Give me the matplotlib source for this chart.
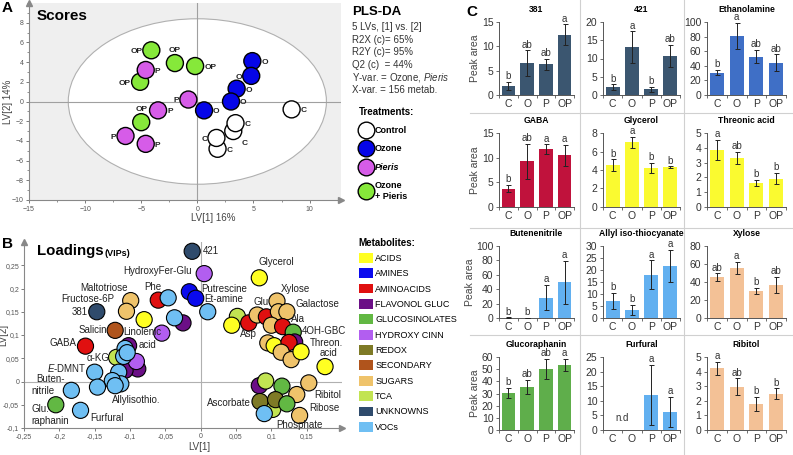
import matplotlib
matplotlib.use('Agg')
import matplotlib.pyplot as plt
from matplotlib.patches import Ellipse, Patch
from matplotlib.lines import Line2D
from matplotlib.ticker import MultipleLocator, FixedLocator
import numpy as np

plt.rcParams['font.family'] = ['Liberation Sans', 'DejaVu Sans']
plt.rcParams['mathtext.fontset'] = 'custom'
plt.rcParams['mathtext.it'] = 'Liberation Sans:italic'
plt.rcParams['mathtext.rm'] = 'Liberation Sans'

W, H = 793, 455

# ---------------- data ----------------
# A: PLS-DA scores
score_x = [-4.1, -2.0, -0.2, -5.1, -5.0,
           -4.6, -0.8, -3.5, -6.4, -4.6,
           4.9, 4.8, 3.5, 3.0, 0.6,
           3.2, 3.4, 1.8, 1.7, 8.4]
score_y = [5.2, 3.9, 3.6, 2.0, -2.1,
           3.2, 0.2, -0.9, -3.5, -4.3,
           4.1, 2.6, 1.3, 0.0, -0.9,
           -3.0, -2.2, -4.8, -3.7, -0.8]
score_grp = ['OP'] * 5 + ['P'] * 5 + ['O'] * 5 + ['C'] * 5
score_side = ['l', 'u', 'r', 'l', 'u',
              'r', 'l', 'r', 'l', 'r',
              'r', 'l', 'r', 'r', 'r',
              'd', 'r', 'r', 'l', 'r']
treat_codes = ['C', 'O', 'P', 'OP']
treat_names = ['Control', 'Ozone', 'Pieris', 'Ozone\n+ Pieris']
treat_colors = ['white', '#0505e8', '#d65ce8', '#86e83a']

# B: loadings (VIPs)
load_x = [-0.102, -0.089, -0.107, -0.091, -0.025, -0.055, -0.037, -0.099, -0.105, -0.080,
          -0.060, -0.046, -0.147, -0.012, 0.005, -0.016, -0.007, 0.010, -0.121, -0.163,
          -0.119, -0.107, -0.109, -0.104, -0.150, -0.116, -0.113, -0.125, -0.121, -0.146,
          -0.183, -0.170, -0.205,
          0.083, 0.052, 0.044, 0.068, 0.080, 0.093, 0.108, 0.110, 0.122, 0.100,
          0.116, 0.131, 0.133, 0.095, 0.104, 0.125, 0.114, 0.128, 0.142, 0.176,
          0.083, 0.092, 0.115, 0.153, 0.136, 0.102, 0.084, 0.106, 0.122, 0.090, 0.140]
load_y = [0.077, 0.027, 0.024, 0.043, 0.126, 0.104, 0.137, 0.174, 0.151, 0.133,
          0.175, 0.180, 0.150, 0.280, 0.232, 0.193, 0.179, 0.150, 0.110, 0.076,
          0.052, 0.071, 0.054, 0.062, 0.020, 0.020, -0.005, 0.002, -0.009, -0.012,
          -0.019, -0.062, -0.050,
          0.223, 0.140, 0.121, 0.126, 0.143, 0.139, 0.173, 0.150, 0.150, 0.121,
          0.118, 0.106, 0.085, 0.083, 0.077, 0.084, 0.063, 0.047, 0.064, 0.032,
          -0.009, 0.001, -0.010, -0.003, -0.028, -0.060, -0.043, -0.039, -0.048, -0.069, -0.073]
load_cat = ['FLA', 'FLA', 'FLA', 'HYD', 'FLA', 'HYD', 'VOC', 'SUG', 'SUG', 'ACI',
            'AMA', 'VOC', 'UNK', 'UNK', 'HYD', 'AMI', 'AMI', 'VOC', 'SEC', 'AMA',
            'TCA', 'VOC', 'VOC', 'VOC', 'VOC', 'VOC', 'VOC', 'VOC', 'VOC', 'VOC',
            'VOC', 'VOC', 'GLS',
            'ACI', 'TCA', 'ACI', 'AMA', 'SUG', 'AMA', 'SUG', 'SUG', 'SUG', 'SUG',
            'AMA', 'GLS', 'FLA', 'SUG', 'ACI', 'AMA', 'SUG', 'SUG', 'ACI', 'ACI',
            'FLA', 'TCA', 'GLS', 'SUG', 'SUG', 'TCA', 'RED', 'RED', 'GLS', 'VOC', 'SUG']
cat_codes = ['ACI', 'AMI', 'AMA', 'FLA', 'GLS', 'HYD', 'RED', 'SEC', 'SUG', 'TCA', 'UNK', 'VOC']
cat_names = ['ACIDS', 'AMINES', 'AMINOACIDS', 'FLAVONOL GLUC', 'GLUCOSINOLATES',
             'HYDROXY CINN', 'REDOX', 'SECONDARY', 'SUGARS', 'TCA', 'UNKNOWNS', 'VOCs']
cat_colors = ['#ffff22', '#0a0aee', '#e01010', '#6b0f86', '#62b843', '#b25ef0',
              '#7e7a26', '#b0541c', '#efc36b', '#c2e452', '#2f4b6c', '#6fbff3']

lab_text = ['421', 'HydroxyFer-Glu', 'Maltotriose', 'Phe', 'Fructose-6P', '381', 'Salicin',
            'Linolenic', 'acid', 'GABA', 'α-KG', '$\\it{E}$-DMNT', 'Buten-', 'nitrile', 'Glu.',
            'raphanin', 'Furfural', 'Allylisothio.', 'Glycerol', 'Putrescine', 'Et-amine',
            'Xylose', 'Glu', 'Galactose', 'Ala', '4OH-GBC', 'Asp', 'Threon.', 'acid',
            'Ribitol', 'Ribose', 'Phosphate', 'Ascorbate']
lab_x = [0.003, -0.013, -0.137, -0.068, -0.160, -0.160, -0.132,
         -0.109, -0.075, -0.176, -0.161, -0.161, -0.233, -0.239, -0.239,
         -0.239, -0.156, -0.125, 0.107, 0.001, 0.005,
         0.134, 0.085, 0.134, 0.128, 0.143, 0.068, 0.154, 0.168,
         0.161, 0.153, 0.140, 0.071]
lab_y = [0.281, 0.238, 0.202, 0.204, 0.177, 0.150, 0.111,
         0.106, 0.079, 0.083, 0.050, 0.029, 0.006, -0.021, -0.059,
         -0.085, -0.079, -0.039, 0.258, 0.200, 0.178,
         0.200, 0.171, 0.166, 0.134, 0.109, 0.102, 0.083, 0.061,
         -0.030, -0.056, -0.093, -0.046]
lab_ha = ['left', 'right', 'center', 'center', 'center', 'right', 'right',
          'left', 'center', 'right', 'left', 'right', 'left', 'left', 'left',
          'left', 'left', 'left', 'center', 'left', 'left',
          'center', 'center', 'left', 'left', 'left', 'center', 'left', 'left',
          'left', 'left', 'center', 'right']

# C: bar charts
groups = ['C', 'O', 'P', 'OP']
bar_titles = ['381', '421', 'Ethanolamine', 'GABA', 'Glycerol', 'Threonic acid',
              'Butenenitrile', 'Allyl iso-thiocyanate', 'Xylose', 'Glucoraphanin',
              'Furfural', 'Ribitol']
bar_means = [[1.9, 6.6, 6.3, 12.4], [2.2, 13.1, 1.55, 10.7], [30.6, 80.8, 52.5, 44.3],
             [3.7, 9.25, 11.76, 10.5], [4.5, 7.0, 4.25, 4.28], [3.85, 3.3, 1.63, 1.92],
             [0.5, 0.3, 28.4, 49.5], [7.1, 3.3, 18.0, 21.8], [45.5, 55.3, 30.2, 36.4],
             [30.4, 35.6, 50.1, 53.7], [0, 0, 11.9, 6.2], [4.22, 2.97, 1.8, 2.49]]
bar_errs = [[0.8, 2.6, 1.2, 2.1], [0.7, 4.3, 0.6, 3.0], [3.4, 18.0, 9.0, 11.4],
            [0.75, 3.5, 0.95, 2.1], [0.65, 0.6, 0.55, 0.1], [0.7, 0.42, 0.2, 0.38],
            [0.5, 0.3, 17.9, 30.0], [3.35, 2.1, 6.0, 6.6], [4.0, 6.8, 3.0, 9.0],
            [4.1, 5.9, 8.5, 5.0], [0, 0, 10.3, 5.2], [0.45, 0.56, 0.48, 0.36]]
bar_letters = [['b', 'ab', 'ab', 'a'], ['b', 'a', 'b', 'ab'], ['b', 'a', 'ab', 'ab'],
               ['b', 'ab', 'a', 'a'], ['b', 'a', 'b', 'b'], ['a', 'ab', 'b', 'b'],
               ['b', 'b', 'a', 'a'], ['b', 'b', 'a', 'a'], ['ab', 'a', 'b', 'ab'],
               ['b', 'ab', 'ab', 'a'], ['', '', 'a', 'a'], ['a', 'ab', 'b', 'b']]
bar_colors = ['#3b5670', '#3b5670', '#3f6fc6', '#c0123c', '#fafa30', '#fafa30',
              '#62b0f0', '#62b0f0', '#f3c196', '#5fae4b', '#62b0f0', '#f3c196']
bar_ymax = [15, 20, 100, 15, 8, 5, 100, 30, 80, 60, 25, 5]
bar_ystep = [5, 5, 20, 5, 2, 1, 20, 5, 20, 10, 5, 1]


def box(l, t, r, b):
    return [l / W, 1 - b / H, (r - l) / W, (b - t) / H]


def ftext(x, y, s, **kw):
    fig.text(x / W, 1 - y / H, s, **kw)


def comma(v, pos=None):
    v = round(v, 2)
    if v == 0:
        return '0'
    return ('%g' % v).replace('.', ',')


fig = plt.figure(figsize=(W / 100, H / 100), dpi=100)

# ---------------- A: scores ----------------
ax = fig.add_axes(box(29, 3, 341, 200))
ax.set_facecolor('#efefef')
ax.set_xlim(-15, 12.8)
ax.set_ylim(-10, 10)
ax.add_patch(Ellipse((0, 0), 23, 16.8, facecolor='white', edgecolor='#b0b0b0', lw=0.8, zorder=0.5))
ax.axhline(0, color='#a0a0a0', lw=0.8, zorder=1)
ax.axvline(0, color='#a0a0a0', lw=0.8, zorder=1)
gcol = dict(zip(treat_codes, treat_colors))
ax.scatter(score_x, score_y, s=150, c=[gcol[g] for g in score_grp], edgecolors='black',
           linewidths=1.0, zorder=3)
offs = {'r': ((6.5, -1), 'left'), 'l': ((-6.5, -1), 'right'), 'u': ((0, 9), 'center'),
        'd': ((6, -9), 'left')}
for x, y, g, sd in zip(score_x, score_y, score_grp, score_side):
    o, ha = offs[sd]
    ax.annotate(g, (x, y), xytext=o, textcoords='offset points', ha=ha, va='center',
                fontsize=6, fontweight='bold', color='#222', zorder=4)
ax.set_xticks([-15, -10, -5, 0, 5, 10])
ax.set_yticks(range(-10, 9, 2))
ax.xaxis.set_minor_locator(MultipleLocator(2.5))
ax.yaxis.set_minor_locator(MultipleLocator(1))
ax.tick_params(labelsize=5, colors='#666', length=2.5, width=0.6, labelcolor='#555', pad=1.5)
ax.tick_params(which='minor', length=1.5, width=0.5, colors='#666')
for s in ['top', 'right']:
    ax.spines[s].set_visible(False)
for s in ['left', 'bottom']:
    ax.spines[s].set_color('#888')
    ax.spines[s].set_linewidth(0.8)
ax.plot(1, 0, '>', transform=ax.transAxes, clip_on=False, color='#888', ms=4)
ax.plot(0, 1, '^', transform=ax.transAxes, clip_on=False, color='#888', ms=4)
ax.set_xlabel('LV[1] 16%', fontsize=7, color='#444', va='center')
ax.set_ylabel('LV[2] 14%', fontsize=7, color='#444', va='center')
ax.xaxis.set_label_coords(0.59, -0.09)
ax.yaxis.set_label_coords(-0.068, 0.5)
ftext(37, 16, 'Scores', fontsize=11, fontweight='bold', va='center')
ftext(2, 8, 'A', fontsize=11, fontweight='bold', va='center')

# PLS-DA summary
ftext(352, 12, 'PLS-DA', fontsize=9.5, fontweight='bold', va='center')
pls_lines = ['5 LVs, [1] vs. [2]', 'R2X (c)= 65%', 'R2Y (c)= 95%', 'Q2 (c)  = 44%',
             'Y-var. = Ozone, $\\it{Pieris}$', 'X-var. = 156 metab.']
for i, t in enumerate(pls_lines):
    ftext(352, 27 + i * 12.6, t, fontsize=7, color='#333', va='center')

th = [Line2D([], [], ls='none', marker='o', ms=12, mfc=c, mec='black', mew=1.0)
      for c in treat_colors]
leg = fig.legend(th, treat_names, loc='upper left', bbox_to_anchor=(354 / W, 1 - 102 / H),
                 frameon=False, title='Treatments:', alignment='left',
                 prop={'size': 6.5, 'weight': 'bold'}, labelspacing=1.05,
                 handletextpad=0.2, borderpad=0, handlelength=1.6)
leg.get_title().set_fontsize(7)
leg.get_title().set_fontweight('bold')
leg.get_texts()[2].set_style('italic')

# ---------------- B: loadings ----------------
ax = fig.add_axes(box(24, 242, 342, 428))
ax.set_xlim(-0.25, 0.2)
ax.set_ylim(-0.1, 0.3)
ax.axhline(0, color='#b0b0b0', lw=0.8, zorder=1)
ax.axvline(0, color='#b0b0b0', lw=0.8, zorder=1)
ccol = dict(zip(cat_codes, cat_colors))
ax.scatter(load_x, load_y, s=135, c=[ccol[k] for k in load_cat], edgecolors='black',
           linewidths=0.8, zorder=3)
for t, x, y, ha in zip(lab_text, lab_x, lab_y, lab_ha):
    ax.text(x, y, t, ha=ha, va='center', fontsize=7, color='#222', zorder=5)
ax.xaxis.set_major_locator(FixedLocator(np.round(np.arange(-0.25, 0.151, 0.05), 2)))
ax.yaxis.set_major_locator(FixedLocator(np.round(np.arange(-0.1, 0.251, 0.05), 2)))
ax.xaxis.set_major_formatter(comma)
ax.yaxis.set_major_formatter(comma)
ax.tick_params(labelsize=5, colors='#666', length=2, width=0.6, labelcolor='#555', pad=1.5)
for s in ['top', 'right']:
    ax.spines[s].set_visible(False)
for s in ['left', 'bottom']:
    ax.spines[s].set_color('#888')
    ax.spines[s].set_linewidth(0.8)
ax.plot(1, 0, '>', transform=ax.transAxes, clip_on=False, color='#888', ms=4)
ax.plot(0, 1, '^', transform=ax.transAxes, clip_on=False, color='#888', ms=4)
ax.set_xlabel('LV[1]', fontsize=7, color='#444', va='center')
ax.set_ylabel('LV[2]', fontsize=7, color='#444', va='center')
ax.xaxis.set_label_coords(0.55, -0.1)
ax.yaxis.set_label_coords(-0.064, 0.5)
ftext(37, 251, 'Loadings', fontsize=10.8, fontweight='bold', va='center')
ftext(105, 253, '(VIPs)', fontsize=6.5, fontweight='bold', va='center')
ftext(2, 244, 'B', fontsize=11, fontweight='bold', va='center')

mh = [Patch(facecolor=c, edgecolor='none') for c in cat_colors]
leg = fig.legend(mh, cat_names, loc='upper left', bbox_to_anchor=(354 / W, 1 - 233 / H),
                 frameon=False, title='Metabolites:', alignment='left',
                 prop={'size': 6.5}, labelspacing=0.6, handlelength=1.55,
                 handleheight=1.3, handletextpad=0.3, borderpad=0)
leg.get_title().set_fontsize(7)
leg.get_title().set_fontweight('bold')

# ---------------- C: bar panels ----------------
ftext(466, 12, 'C', fontsize=11, fontweight='bold', va='center')
col_lr = [(499, 574), (603, 680), (707, 786)]
row_tb = [(22, 95), (133, 207), (246, 318), (357, 430)]
for i, title in enumerate(bar_titles):
    r, c = divmod(i, 3)
    ax = fig.add_axes(box(col_lr[c][0], row_tb[r][0], col_lr[c][1], row_tb[r][1]))
    xs = np.arange(len(groups))
    m = np.array(bar_means[i])
    e = np.array(bar_errs[i])
    ax.bar(xs, m, width=0.72, color=bar_colors[i], zorder=2)
    ok = e > 0
    eb = ax.errorbar(xs[ok], m[ok], yerr=e[ok], fmt='none', ecolor='#222',
                     elinewidth=0.7, capsize=1.8, capthick=0.7, zorder=3)
    for a in eb.get_children():
        a.set_clip_on(False)
    for x, top, lt in zip(xs, m + e, bar_letters[i]):
        if lt:
            ax.annotate(lt, (x, top), xytext=(0, 0.5), textcoords='offset points',
                        ha='center', va='bottom', fontsize=7, color='#333')
    if title == 'Furfural':
        ax.text(0.5, bar_ymax[i] * 0.1, 'n.d', ha='center', va='bottom', fontsize=7, color='#333')
    ax.set_xlim(-0.5, 3.5)
    ax.set_ylim(0, bar_ymax[i])
    ax.set_yticks(np.arange(0, bar_ymax[i] + 0.1, bar_ystep[i]))
    ax.set_xticks(xs)
    ax.set_xticklabels(groups)
    ax.xaxis.set_minor_locator(FixedLocator([-0.5, 0.5, 1.5, 2.5, 3.5]))
    ax.tick_params(axis='x', which='major', length=0, pad=3)
    ax.tick_params(axis='x', which='minor', length=2.5, width=0.6, color='#555')
    ax.tick_params(axis='y', length=2.5, width=0.6, color='#555', pad=1.5)
    ax.tick_params(labelsize=7.5, labelcolor='#333')
    for s in ['top', 'right']:
        ax.spines[s].set_visible(False)
    for s in ['left', 'bottom']:
        ax.spines[s].set_color('#555')
        ax.spines[s].set_linewidth(0.7)
    ax.set_title(title, fontsize=6.2, fontweight='bold', pad=7.5)
    if c == 0:
        ax.set_ylabel('Peak area', fontsize=7.5, color='#444', labelpad=1)

# grid separators for panel C
for xv in [580, 684]:
    fig.add_artist(Line2D([xv / W, xv / W], [0, 1], color='#d0d0d0', lw=0.8))
for yv in [113, 228, 335]:
    fig.add_artist(Line2D([470 / W, 1], [1 - yv / H, 1 - yv / H], color='#d0d0d0', lw=0.8))

fig.savefig('out.png', dpi=100)
